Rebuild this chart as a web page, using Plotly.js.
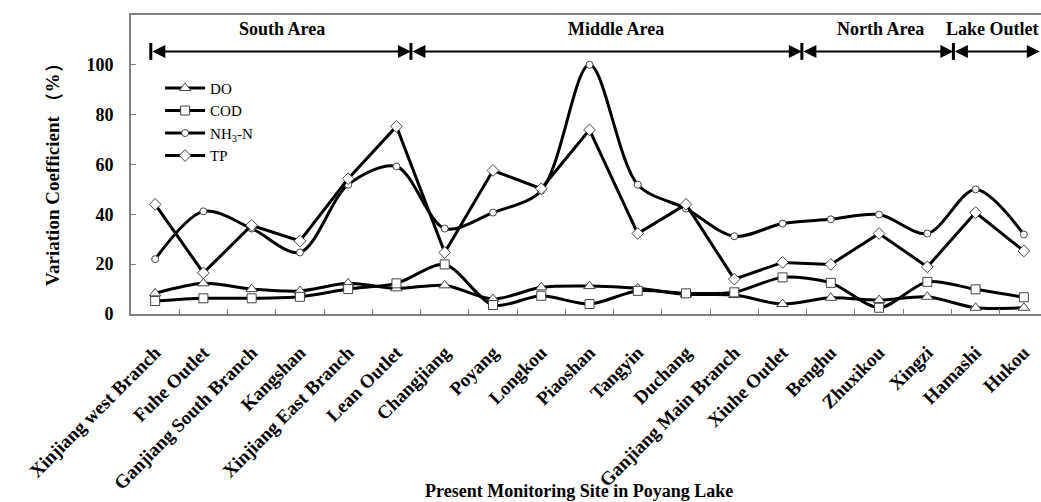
<!DOCTYPE html>
<html>
<head>
<meta charset="utf-8">
<script src="https://cdn.plot.ly/plotly-3.0.1.min.js"></script>
<style>
html,body{margin:0;padding:0;background:#fff;overflow:hidden;}
#chart{width:1041px;height:502px;}
</style>
</head>
<body>
<div id="chart"></div>
<script>
var categories = ["Xinjiang west Branch","Fuhe Outlet","Ganjiang South Branch","Kangshan","Xinjiang East Branch","Lean Outlet","Changjiang","Poyang","Longkou","Piaoshan","Tangyin","Duchang","Ganjiang Main Branch","Xiuhe Outlet","Benghu","Zhuxikou","Xingzi","Hamashi","Hukou"];
var doVals  = [8.3, 12.3, 10.0, 9.2, 12.3, 10.3, 11.5, 6.0, 10.7, 11.2, 10.3, 7.9, 7.6, 4.0, 6.5, 5.6, 6.9, 2.5, 2.5];
var codVals = [5.2, 6.3, 6.3, 6.9, 10.0, 12.3, 19.9, 3.6, 7.3, 4.0, 9.3, 8.3, 8.7, 14.7, 12.5, 2.5, 12.9, 9.9, 6.7];
var nhVals  = [22.0, 41.2, 34.3, 24.7, 51.9, 59.2, 34.3, 40.7, 49.5, 100.0, 51.9, 42.3, 31.2, 36.3, 38.0, 39.9, 32.3, 50.0, 31.9];
var tpVals  = [44.0, 16.5, 35.6, 29.3, 54.3, 75.3, 24.7, 57.6, 50.3, 73.9, 32.3, 44.0, 14.0, 20.7, 19.9, 32.3, 18.9, 40.7, 25.3];
var seriesNames = ["DO", "COD", "NH<sub>3</sub>-N", "TP"];
var yTicks = [0, 20, 40, 60, 80, 100];
var areaNames = ["South Area", "Middle Area", "North Area", "Lake Outlet"];
var areaBounds = [-0.09, 5.30, 13.40, 16.54, 18.33];
var areaLabelX = [2.63, 9.55, 15.02, 16.35];

var serif = "Liberation Serif, Times New Roman, serif";
function mk(sym, size){ return {symbol: sym, size: size, color: "#ffffff", line: {color: "#444444", width: 1}}; }

var traces = [
  {x: categories, y: doVals, name: seriesNames[0], type: "scatter", mode: "lines+markers",
   line: {color: "#000", width: 3, shape: "spline", smoothing: 0.8}, marker: mk("triangle-up", 10)},
  {x: categories, y: codVals, name: seriesNames[1], type: "scatter", mode: "lines+markers",
   line: {color: "#000", width: 3, shape: "spline", smoothing: 0.8}, marker: mk("square", 9)},
  {x: categories, y: nhVals, name: seriesNames[2], type: "scatter", mode: "lines+markers",
   line: {color: "#000", width: 3, shape: "spline", smoothing: 0.9}, marker: mk("circle", 7)},
  {x: categories, y: tpVals, name: seriesNames[3], type: "scatter", mode: "lines+markers",
   line: {color: "#000", width: 3}, marker: mk("diamond", 9)}
];

var shapes = [];
var annotations = [];
for (var i = 0; i < areaBounds.length - 1; i++) {
  annotations.push({x: areaBounds[i+1], y: 105.4, ax: areaBounds[i], ay: 105.4, xref: "x", yref: "y", axref: "x", ayref: "y",
    text: "", showarrow: true, arrowhead: 2, arrowside: "end+start", arrowsize: 1.3, arrowwidth: 2, arrowcolor: "#000", standoff: 0, startstandoff: 0});
  annotations.push({x: areaLabelX[i], y: 114.5, xref: "x", yref: "y", text: areaNames[i], showarrow: false,
    xanchor: (i === 3 ? "left" : "center"), yanchor: "middle",
    font: {family: serif, size: 18, color: "#000", weight: "bold"}});
}
for (var j = 0; j < areaBounds.length - 1; j++) {
  shapes.push({type: "line", xref: "x", yref: "y", x0: areaBounds[j], x1: areaBounds[j], y0: 102, y1: 108.8,
    line: {color: "#000", width: 3}});
}
annotations.push({xref: "paper", yref: "paper", x: 0.492, y: -0.592, text: "Present Monitoring Site in Poyang Lake",
  showarrow: false, xanchor: "center", yanchor: "middle", font: {family: serif, size: 18, color: "#000", weight: "bold"}});
annotations.push({xref: "paper", yref: "paper", x: -0.0857, y: 0.482, text: "Variation Coefficient （%）", textangle: -90,
  showarrow: false, xanchor: "center", yanchor: "middle", font: {family: serif, size: 19, color: "#000", weight: "bold"}});

var layout = {
  width: 1041, height: 502,
  margin: {l: 131, r: 0, t: 15, b: 188},
  paper_bgcolor: "#fff", plot_bgcolor: "#fff",
  showlegend: true,
  legend: {x: 0.032, y: 0.81, xanchor: "left", yanchor: "top", bgcolor: "rgba(0,0,0,0)",
    font: {family: serif, size: 15, color: "#000"}, itemwidth: 40},
  xaxis: {type: "category", range: [-0.5, 18.355], tickson: "boundaries", ticks: "inside", ticklen: 5, tickcolor: "#808080",
    showline: true, linecolor: "#808080", linewidth: 2, mirror: true, showgrid: false, zeroline: false,
    tickangle: -45, ticklabelstandoff: 18,
    tickfont: {family: serif, size: 19, color: "#000", weight: "bold"}},
  yaxis: {range: [0, 120], tickvals: yTicks, ticks: "inside", ticklen: 5, tickcolor: "#808080",
    showline: true, linecolor: "#808080", linewidth: 2, showgrid: false, zeroline: false, ticklabelstandoff: 12,
    tickfont: {family: serif, size: 18, color: "#000", weight: "bold"}},
  shapes: shapes,
  annotations: annotations
};

Plotly.newPlot("chart", traces, layout, {staticPlot: true, displayModeBar: false});
</script>
</body>
</html>
